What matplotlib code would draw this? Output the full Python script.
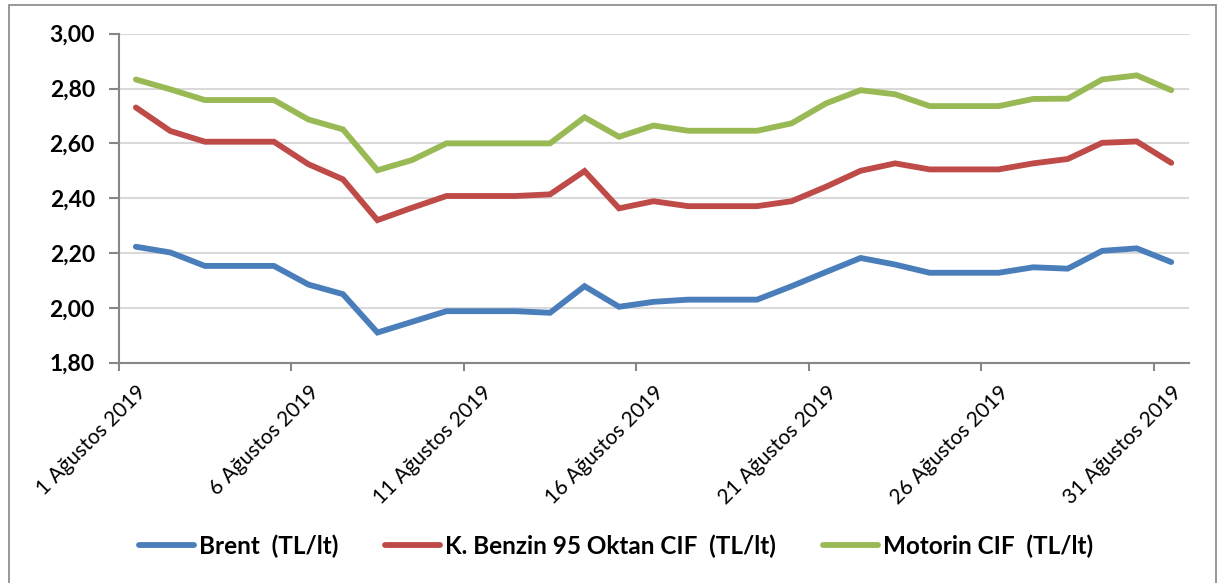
import matplotlib
matplotlib.use("Agg")
import matplotlib.pyplot as plt
from matplotlib.ticker import FixedLocator
from matplotlib.patches import Rectangle

days = list(range(1, 32))
tick_labels = [f"{d} Ağustos 2019" for d in days]

brent = [2.223, 2.202, 2.153, 2.153, 2.153, 2.085, 2.050, 1.910, 1.949, 1.988,
         1.988, 1.988, 1.982, 2.079, 2.004, 2.022, 2.030, 2.030, 2.030, 2.079,
         2.131, 2.182, 2.158, 2.128, 2.128, 2.128, 2.148, 2.143, 2.208, 2.217, 2.167]
benzin = [2.731, 2.645, 2.606, 2.606, 2.606, 2.524, 2.469, 2.320, 2.365, 2.408,
          2.408, 2.408, 2.414, 2.499, 2.363, 2.389, 2.371, 2.371, 2.371, 2.389,
          2.442, 2.500, 2.527, 2.505, 2.505, 2.505, 2.527, 2.543, 2.602, 2.607, 2.529]
motorin = [2.833, 2.797, 2.758, 2.758, 2.758, 2.687, 2.651, 2.502, 2.539, 2.600,
           2.600, 2.600, 2.600, 2.695, 2.624, 2.665, 2.646, 2.646, 2.646, 2.673,
           2.746, 2.794, 2.779, 2.736, 2.736, 2.736, 2.762, 2.763, 2.833, 2.848, 2.794]

y_ticks = [1.8, 2.0, 2.2, 2.4, 2.6, 2.8, 3.0]
y_tick_labels = ["1,80", "2,00", "2,20", "2,40", "2,60", "2,80", "3,00"]

series_names = ["Brent  (TL/lt)", "K. Benzin 95 Oktan CIF  (TL/lt)", "Motorin CIF  (TL/lt)"]
colors = ["#4A7EBB", "#BE4B48", "#98B954"]

plt.rcParams['font.family'] = ['Lato', 'DejaVu Sans']

fig = plt.figure(figsize=(12.19, 5.83), dpi=100)
fig.patches.append(Rectangle((9/1219, -0.01), (1216-9)/1219, 1 - 5/583 + 0.01,
                             transform=fig.transFigure, fill=False,
                             edgecolor="#868686", linewidth=1.2))

ax = fig.add_axes([118.6/1219, 1 - 362.7/583, (1188.5-118.6)/1219, (362.7-33.7)/583])
x = list(range(len(days)))
for vals, name, c in zip([brent, benzin, motorin], series_names, colors):
    ax.plot(x, vals, color=c, linewidth=4.2, label=name, solid_capstyle='round',
            solid_joinstyle='miter')

ax.set_xlim(-0.5, len(days) - 0.5)
ax.set_ylim(1.8, 3.0)
ax.set_yticks(y_ticks, labels=y_tick_labels, fontweight='bold', fontsize=16.5)
ax.grid(axis='y', color="#D9D9D9", linewidth=1.5)
ax.set_axisbelow(True)

label_pos = list(range(0, len(days), 5))
ax.set_xticks(label_pos)
ax.set_xticklabels([tick_labels[i] for i in label_pos], rotation=45, ha='right',
                   rotation_mode='anchor', fontsize=15)
ax.xaxis.set_minor_locator(FixedLocator([p - 0.5 for p in label_pos]))
ax.tick_params(axis='x', which='major', length=0, pad=14)
ax.tick_params(axis='x', which='minor', length=6, width=1.5, color="#868686")
ax.tick_params(axis='y', length=7, width=1.5, color="#868686", pad=10)

for s in ['top', 'right']:
    ax.spines[s].set_visible(False)
for s in ['left', 'bottom']:
    ax.spines[s].set_color("#868686")
    ax.spines[s].set_linewidth(1.5)

leg = fig.legend(loc='center', bbox_to_anchor=(616/1219, 1 - 546/583), ncol=3,
                 frameon=False, prop={'weight': 'bold', 'size': 17.5},
                 handlelength=2.25, handletextpad=0.2, columnspacing=1.95)

fig.savefig("out.png", dpi=100)
